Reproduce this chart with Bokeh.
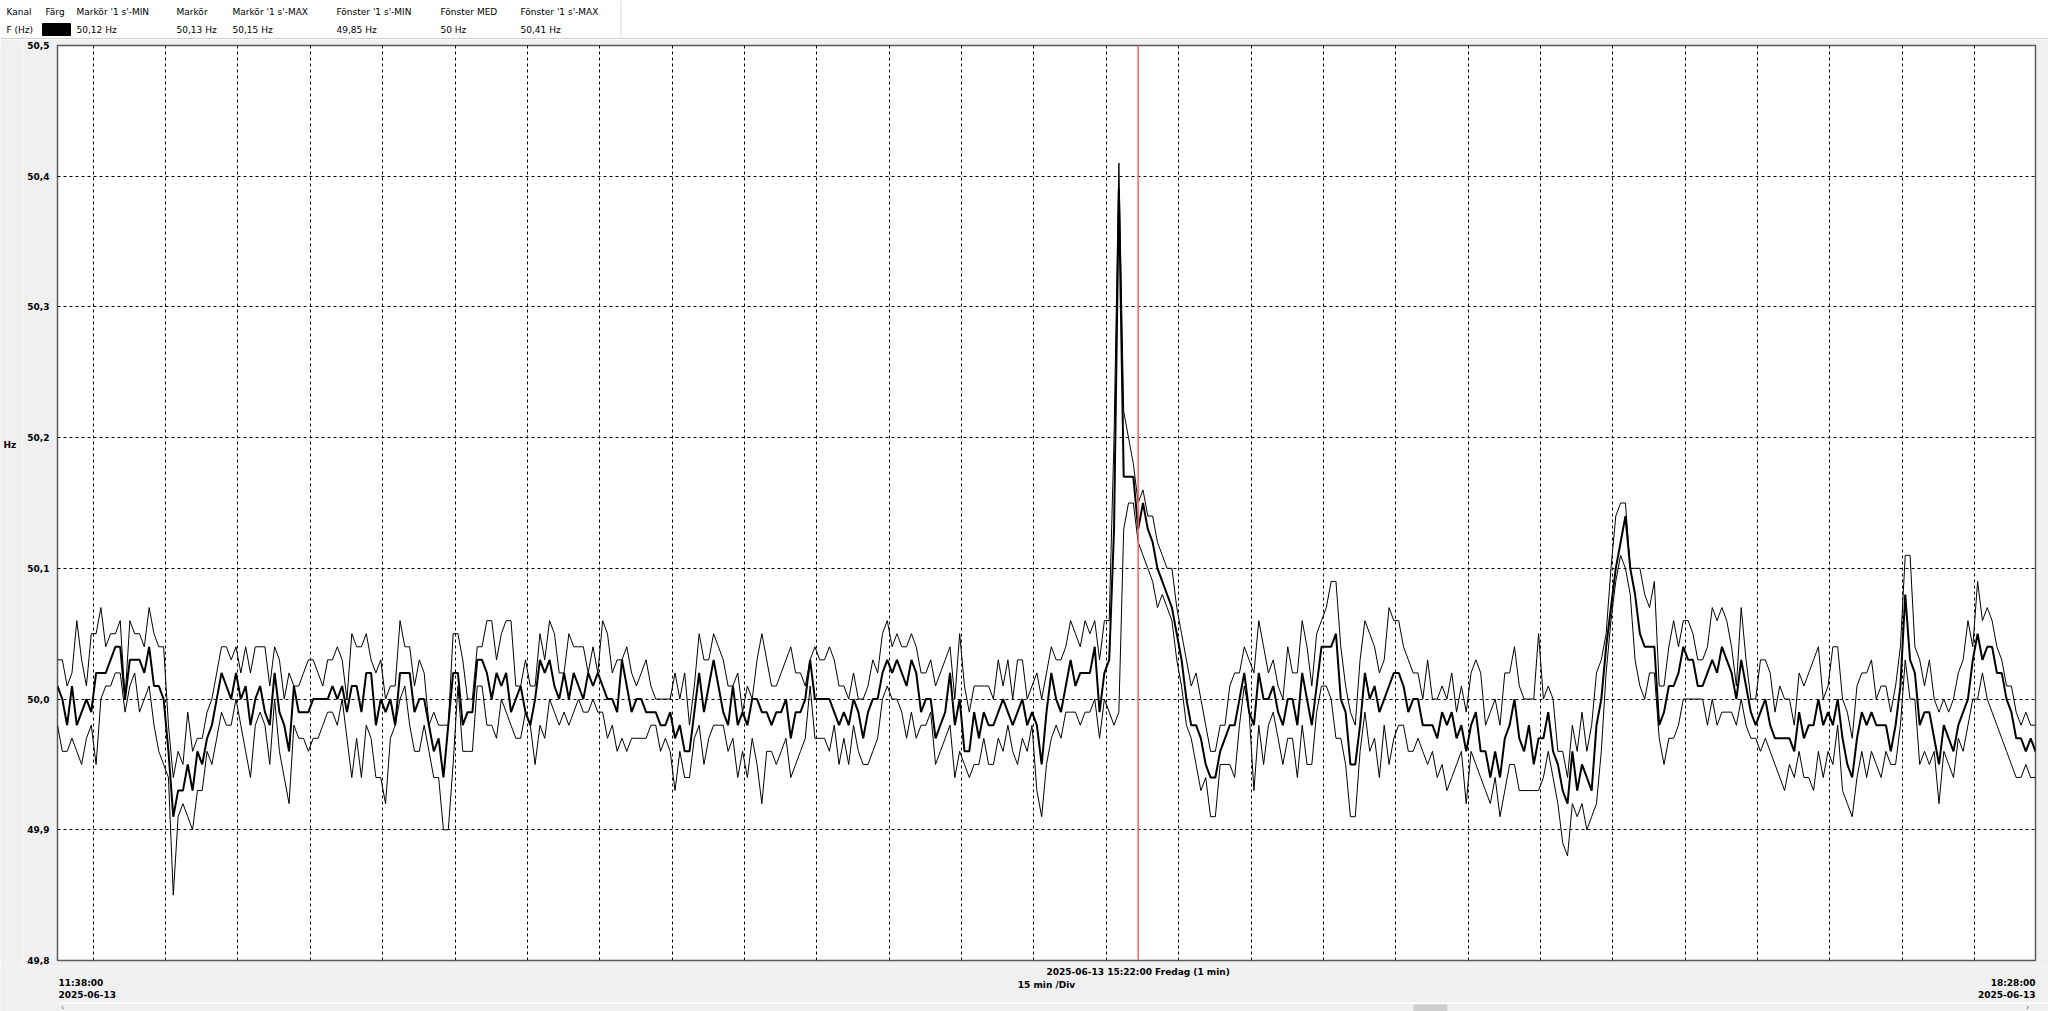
from bokeh.plotting import figure
from bokeh.models import Range1d, FixedTicker, CustomJSTickFormatter, Span
from bokeh.layouts import column, row
from bokeh.core.properties import value
from bokeh.embed import file_html
from bokeh.resources import INLINE

# ---- data: deviation from 50 Hz in 0.01 Hz, one value per minute from 11:38 to 18:28 ----
max_c = ([3,3,1,2,6,3,1,5,5,7, 4,5,5,6,0,6,5,5,4,7, 5,4,4,-2,-6,-4,-5,-1,-4,-3,
          -3,-1,0,2,4,4,3,4,2,4, 2,4,4,4,1,4,3,0,2,1, 1,2,3,3,2,1,3,3,4,3,
          0,5,4,4,5,3,2,3,0,1, 1,6,4,4,1,3,2,-2,-1,-2, -2,-2,5]
         + [5,3,0,0,4,4,6,6,3,5, 6,6,1,1,3,1,1,5,3,6, 5,2,2,5,4,4,4,2,4,2,
            6,5,2,3,3,4,2,1,2,3, 1,0,0,0,0,2,0,2,-2,1, 5,3,3,5,4,3,1,1,2,-1,
            1,0,3,5,3,1,1,2,3,4, 2,2,1,3,4,3,3,4,3,1,1, 0,2]
         + [0,0,1,3,2,5,6,4,5,4, 4,5,4,2,2,3,1,2,3,4, 0,5,1,-1,1,1,1,1,0,3,
            1,3,0,3,3,0,1,2,0,2, 4,3,3,4,6,5,4,6,5,6, 3,6,6]
         + [20,41,22,20,18,15,16,14,14,12, 11,10,10,7,5,3,1,2,0,-2, -4,-4,-2,-2,1,2,2]
         + [4,3,2,6,4,2,3,1,0,4, 2,2,6,4,1,5,6,7,9,9, 4,1,-1,-2,3,6,5,4,2,3,
            7,6,6,4,3,2,2,0,3,0, 0,1,0,2,-1,1,-1,2,3,2, -2,-1,0,-2,2,2,4,1,0,0,
            0,5,0,1,0,-4,-4,-6,-2,-4, -1,-4,-2,2,3,5,10,14,15,15, 10,10,10]
         + [8,7,9,1,1,4,6,4,6,6, 5,3,3,4,7,6,7,6,4,1, 7,3,0,0,3,3,2,-1,1,0,
            0,-2,2,1,2,3,4,0,1,4, 4,0,-1,-3,1,2,2,3,0,1, 1,-1,1,4,11,11,4,3,1,3,
            0,-1,0,-1,0,2,3,6,4,9, 6,7,6,4,3,1,1,-1,-2,-1, -2,-2])

med_c = ([1,0,-2,1,-2,-1,0,-1,2,2, 2,3,4,4,0,3,3,3,2,4, 1,1,0,-4,-9,-7,-7,-5,-7,-4,
          -5,-3,-2,0,2,1,0,2,0,1, -2,0,1,-1,-2,2,-1,-2,-4,1, -1,-1,-1,0,0,0,0,1,0,1,
          -1,1,1,-1,2,2,-2,0,-1,0, -2,2,2,2,-1,0,0,-2,-4,-3, -6,-2,2]
         + [2,-2,-1,-1,3,3,2,0,2,1, 2,-1,0,1,-1,-2,0,3,2,3, 1,0,2,0,2,1,0,2,1,2,
            1,0,0,-1,3,1,-1,0,0,-1, -1,-1,-2,-2,-1,-3,-2,-4,-4,-1, 2,-1,1,3,1,-1,-2,1,-2,-1,
            -2,0,0,-1,-1,-2,-1,-1,0,-3, -1,-1,0,3,0,0,0,0,-1,-2,-1, -2,0]
         + [-1,-3,-1,0,0,2,3,2,3,2, 1,3,2,-1,0,0,-3,-2,-1,2, -2,0,-4,-4,-1,-3,-1,-2,-2,-1,
            0,-1,-2,-1,0,-2,-1,-2,-5,-1, 2,0,-1,1,3,1,2,2,2,4, -1,2,3]
         + [13,39,17,17,17,13,15,13,12,10, 9,8,7,5,3,0,-2,-2,-3,-5, -6,-6,-4,-3,-2,-2,0]
         + [2,-1,-2,2,0,0,1,-1,-2,0, 0,-2,2,0,-2,1,4,4,4,5, 0,-1,-5,-5,-2,2,0,1,-1,0,
            1,2,2,1,-1,0,0,-2,-2,-2, -3,-1,-2,-1,-3,-2,-4,-2,-1,-4, -4,-6,-4,-6,-3,-2,0,-3,-4,-2,
            -5,-3,-3,-1,-4,-5,-7,-8,-4,-7, -5,-6,-7,-2,0,4,7,10,12,14, 10,8,5]
         + [4,4,4,-2,-1,1,1,2,4,3, 3,1,1,2,3,2,4,3,2,0, 3,1,-1,-2,-1,0,-2,-3,-3,-3,
            -3,-4,-1,-3,-2,-2,0,-2,-1,-2, 0,-3,-5,-6,-3,-1,-2,-1,-2,-2, -2,-4,-2,1,8,3,2,-2,-1,-1,
            -3,-5,-2,-3,-4,-2,-1,0,3,5, 3,4,4,2,2,0,-1,-3,-3,-4, -3,-4])

min_c = ([-2,-4,-4,-3,-4,-5,-3,-2,-5,0, 1,1,2,2,-1,1,2,-1,0,1, -2,-4,-5,-6,-15,-9,-8,-9,-10,-7,
          -7,-4,-5,-3,-1,-2,-2,0,-2,-4, -6,-2,-1,-2,-5,0,-4,-6,-8,-2, -3,-3,-4,-3,-3,-2,-1,-1,-2,0,
          -3,-6,-3,-6,-2,-3,-6,-6,-8,-3, -2,0,1,-2,-4,-4,-2,-4,-6,-6, -10,-10,-5]
         + [1,-4,-4,-4,1,1,-2,-2,-3,0, -1,-2,-3,-3,-1,-2,-5,-2,-3,0, -1,-2,-1,-2,-1,0,-1,-1,0,-1,
            -1,-3,-2,-4,-3,-4,-3,-3,-3,-3, -2,-2,-4,-3,-4,-7,-4,-6,-6,-3, -2,-5,-3,-2,-2,-2,-4,-3,-6,-4,
            -6,-3,-5,-8,-4,-4,-5,-4,-3,-6, -5,-4,-3,1,-3,-3,-3,-4,-2,-5,-3, -5,-2]
         + [-4,-5,-5,-4,-3,0,1,0,0,-1, -3,-1,-3,-2,-2,-1,-5,-4,-3,-2, -6,-4,-5,-6,-5,-5,-3,-5,-5,-3,
            -4,-2,-4,-5,-3,-4,-2,-7,-9,-5, -3,-2,-3,-1,-1,-1,-2,-1,-1,0, -3,0,-1]
         + [-2,-1,13,15,15,12,11,10,9,7, 8,7,6,3,1,-2,-3,-5,-7,-6, -9,-9,-5,-5,-5,-6,-2]
         + [1,-1,-7,-2,-5,-2,-1,-3,-5,-3, -3,-6,-2,-5,-5,-1,1,1,0,-3, -3,-5,-9,-9,-4,-1,-4,-3,-6,-2,
            -5,-3,-2,-2,-4,-4,-3,-4,-5,-4, -6,-5,-7,-6,-5,-4,-8,-4,-5,-6, -7,-8,-6,-9,-7,-5,-5,-7,-7,-7,
            -7,-7,-6,-4,-6,-8,-11,-12,-8,-9, -8,-10,-9,-8,-4,2,6,9,11,10, 8,3,1]
         + [0,2,2,-3,-5,-3,-3,-2,0,0, 0,0,0,-2,0,-2,-1,-1,-1,-2, 0,-2,-3,-3,-4,-3,-4,-5,-6,-7,
            -5,-6,-4,-6,-6,-7,-4,-6,-4,-5, -2,-7,-8,-9,-6,-4,-6,-4,-5,-6, -4,-5,-5,-2,3,0,0,-5,-4,-5,
            -4,-8,-4,-5,-6,-3,-4,-2,0,0, 2,0,-1,-2,-3,-4,-5,-6,-6,-5, -6,-6])

N = 411
assert len(max_c) == N and len(med_c) == N and len(min_c) == N, (len(max_c), len(med_c), len(min_c))

minutes = list(range(N))                       # minutes after 11:38:00
f_max = [50 + v / 100 for v in max_c]
f_med = [50 + v / 100 for v in med_c]
f_min = [50 + v / 100 for v in min_c]

y_ticks = [49.8, 49.9, 50.0, 50.1, 50.2, 50.3, 50.4, 50.5]
marker_minute = 224                            # 15:22:00

header_titles = ["Kanal", "Färg", "Markör '1 s'-MIN", "Markör", "Markör '1 s'-MAX",
                 "Fönster '1 s'-MIN", "Fönster MED", "Fönster '1 s'-MAX"]
header_values = ["F (Hz)", "50,12 Hz", "50,13 Hz", "50,15 Hz", "49,85 Hz", "50 Hz", "50,41 Hz"]
start_label = ["11:38:00", "2025-06-13"]
end_label = ["18:28:00", "2025-06-13"]
marker_label = "2025-06-13 15:22:00 Fredag (1 min)"
div_label = "15 min /Div"

# ---- page geometry (pixels) ----
W, H = 2048, 1011
FL, FR, FT, FB = 57, 2035, 45, 960          # plot frame
X_END = 410.0
HEAD_H = 39
STRIP_W = 22
MAIN_H = 927                                   # y 39 .. 966
FOOT_TOP = HEAD_H + MAIN_H
GRAY = "#f0f0f0"
FONT = value("DejaVu Sans")

def px_of_minute(m):
    return FL + m * (FR - FL) / X_END

def chrome(w, h, y_top, y_bottom, bg=GRAY):
    f = figure(width=w, height=h, x_range=Range1d(0, w), y_range=Range1d(y_bottom, y_top),
               x_axis_type=None, y_axis_type=None, min_border=0,
               toolbar_location=None, output_backend="svg")
    f.outline_line_color = None
    f.background_fill_color = bg
    f.border_fill_color = bg
    f.grid.visible = False
    return f

# ---- header table ----
head = chrome(W, HEAD_H, 0, HEAD_H, bg="white")
head.segment(x0=[0], y0=[38.5], x1=[W], y1=[38.5], line_color="#a0a0a0", line_width=1)
head.segment(x0=[620.5], y0=[0], x1=[620.5], y1=[38], line_color="#d8d8d8", line_width=1)
head.quad(left=[42], right=[70], top=[23], bottom=[35], fill_color="black", line_color="black")
col_x = [6, 45, 76, 176, 232, 336, 440, 520]
head.text(x=col_x, y=[11] * len(col_x), text=header_titles, text_font=FONT,
          text_font_size="9px", text_baseline="middle", text_align="left", text_color="black")
val_x = [col_x[0]] + col_x[2:]
head.text(x=val_x, y=[29] * len(val_x), text=header_values, text_font=FONT,
          text_font_size="9px", text_baseline="middle", text_align="left", text_color="black")

# ---- left strip with the unit ----
strip = chrome(STRIP_W, MAIN_H, HEAD_H, FOOT_TOP)
strip.text(x=[3], y=[444], text=["Hz"], text_font=FONT, text_font_style="bold",
           text_font_size="9px", text_baseline="middle", text_align="left", text_color="black")

# ---- main chart ----
p = figure(width=W - STRIP_W, height=MAIN_H,
           x_range=Range1d(0, X_END), y_range=Range1d(49.8, 50.5),
           output_backend="svg", toolbar_location=None, title=None)
p.min_border_left = FL - STRIP_W
p.min_border_right = W - STRIP_W - (FR - FL) - (FL - STRIP_W)
p.min_border_top = FT - HEAD_H
p.min_border_bottom = FOOT_TOP - FB
p.border_fill_color = GRAY
p.background_fill_color = "white"
p.outline_line_color = "#5a5a5a"
p.outline_line_width = 1.5

p.xaxis.visible = False
yax = p.yaxis[0]
yax.ticker = FixedTicker(ticks=y_ticks)
yax.formatter = CustomJSTickFormatter(code="return tick.toFixed(1).replace('.', ',');")
yax.major_tick_line_color = None
yax.minor_tick_line_color = None
yax.axis_line_color = None
yax.major_label_standoff = 2
yax.major_label_text_font = "DejaVu Sans"
yax.major_label_text_font_style = "bold"
yax.major_label_text_font_size = "9px"
yax.major_label_text_color = "black"

grid_x = [7.4 + 15 * k for k in range(27)]
p.xgrid.ticker = FixedTicker(ticks=grid_x)
p.ygrid.ticker = FixedTicker(ticks=y_ticks[1:-1])
for g in (p.xgrid[0], p.ygrid[0]):
    g.grid_line_color = "black"
    g.grid_line_dash = "3 3"
    g.grid_line_width = 1
    g.grid_line_alpha = 1.0

p.line(minutes, f_max, line_color="black", line_width=1)
p.line(minutes, f_min, line_color="black", line_width=1)
p.line(minutes, f_med, line_color="black", line_width=2)
p.add_layout(Span(location=marker_minute, dimension="height", line_color="#f26464", line_width=1.5))

# ---- footer (time scale texts + scroll bar) ----
foot = chrome(W, H - FOOT_TOP, FOOT_TOP, H)
foot.text(x=[px_of_minute(marker_minute)], y=[971.5], text=[marker_label], text_font=FONT,
          text_font_style="bold", text_font_size="9px", text_baseline="middle",
          text_align="center", text_color="black")
foot.text(x=[px_of_minute(X_END / 2)], y=[984], text=[div_label], text_font=FONT,
          text_font_style="bold", text_font_size="9px", text_baseline="middle",
          text_align="center", text_color="black")
foot.text(x=[px_of_minute(0) + 1] * 2, y=[982, 994], text=start_label, text_font=FONT,
          text_font_style="bold", text_font_size="9px", text_baseline="middle",
          text_align="left", text_color="black")
foot.text(x=[px_of_minute(X_END)] * 2, y=[982, 994], text=end_label, text_font=FONT,
          text_font_style="bold", text_font_size="9px", text_baseline="middle",
          text_align="right", text_color="black")
foot.segment(x0=[57], y0=[1002.5], x1=[W], y1=[1002.5], line_color="white", line_width=1.5)
foot.quad(left=[1413], right=[1447], top=[1004], bottom=[1011], fill_color="#cdcdcd", line_color=None)
foot.text(x=[62, 2027], y=[1006.5, 1006.5], text=["‹", "›"], text_font=FONT, text_font_size="8px",
          text_baseline="middle", text_align="center", text_color="#606060")

layout = column(head, row(strip, p), foot)
open("out.html", "w").write(file_html(layout, INLINE))
